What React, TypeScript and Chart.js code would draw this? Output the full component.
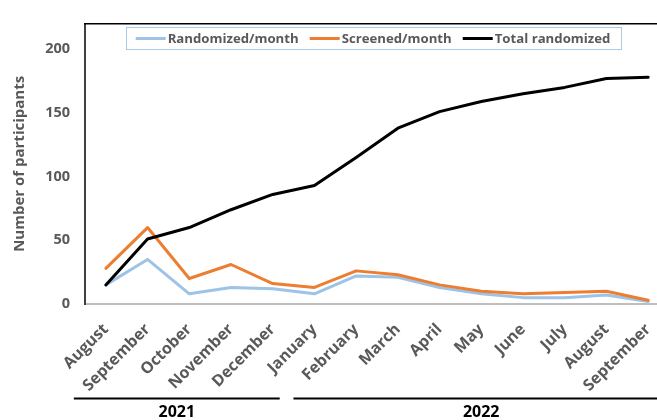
import React, { useEffect, useRef } from 'react';
import { Chart, registerables } from 'chart.js';

Chart.register(...registerables);

const months = ['August', 'September', 'October', 'November', 'December', 'January', 'February', 'March', 'April', 'May', 'June', 'July', 'August', 'September'];
const randomizedPerMonth = [15, 35, 8, 13, 12, 8, 22, 21, 13, 8, 5, 5, 7, 2];
const screenedPerMonth = [28, 60, 20, 31, 16, 13, 26, 23, 15, 10, 8, 9, 10, 3];
const totalRandomized = [15, 51, 60, 74, 86, 93, 115, 138, 151, 159, 165, 170, 177, 178];
const yTicks = [0, 50, 100, 150, 200];
const yearGroups = [
  { label: '2021', first: 0, last: 4, startOff: -32, endOff: 7 },
  { label: '2022', first: 5, last: 13, startOff: -21, endOff: 0 },
];

const FONT = '"Open Sans", "DejaVu Sans", sans-serif';
const GRAY = '#595959';

const decorPlugin = {
  id: 'decor',
  afterDraw(chart: any) {
    const { ctx, chartArea, scales } = chart;
    const x = scales.x;
    ctx.save();
    // top frame line
    ctx.strokeStyle = '#000000';
    ctx.lineWidth = 1.5;
    ctx.beginPath();
    ctx.moveTo(chartArea.left - 1, chartArea.top);
    ctx.lineTo(chart.width, chartArea.top);
    ctx.stroke();

    // legend
    ctx.font = `bold 13.2px ${FONT}`;
    const items = chart.data.datasets.map((ds: any) => ({
      label: ds.label,
      color: ds.borderColor,
      w: ctx.measureText(ds.label).width,
    }));
    const lineLen = 30, gapText = 2, gapItem = 11, padX = 10;
    const total = items.reduce((s: number, it: any) => s + lineLen + gapText + it.w, 0) + gapItem * (items.length - 1) + padX * 2;
    const cx = 373;
    const left = cx - total / 2;
    const top = 27.5, h = 22;
    ctx.strokeStyle = '#A9CBEA';
    ctx.lineWidth = 1;
    ctx.strokeRect(Math.round(left) + 0.5, top, Math.round(total), h);
    let px = left + padX;
    const cy = top + h / 2;
    ctx.textBaseline = 'middle';
    ctx.textAlign = 'left';
    items.forEach((it: any) => {
      ctx.strokeStyle = it.color;
      ctx.lineWidth = 3;
      ctx.beginPath();
      ctx.moveTo(px, cy);
      ctx.lineTo(px + lineLen, cy);
      ctx.stroke();
      ctx.fillStyle = GRAY;
      ctx.fillText(it.label, px + lineLen + gapText, cy + 1);
      px += lineLen + gapText + it.w + gapItem;
    });

    // year groups
    ctx.strokeStyle = '#000000';
    ctx.lineWidth = 2;
    ctx.fillStyle = '#000000';
    ctx.font = `bold 16px ${FONT}`;
    ctx.textAlign = 'center';
    yearGroups.forEach((g) => {
      const x0 = x.getPixelForValue(g.first) + g.startOff;
      const x1 = g.last === months.length - 1 ? chartArea.right : x.getPixelForValue(g.last) + g.endOff;
      ctx.beginPath();
      ctx.moveTo(x0, 398.5);
      ctx.lineTo(x1, 398.5);
      ctx.stroke();
      ctx.fillText(g.label, (x0 + x1) / 2, 412);
    });
    ctx.restore();
  },
};

export default function App() {
  const ref = useRef<HTMLCanvasElement>(null);
  useEffect(() => {
    if (!ref.current) return;
    const chart = new Chart(ref.current, {
      type: 'line',
      data: {
        labels: months,
        datasets: [
          { label: 'Randomized/month', data: randomizedPerMonth, borderColor: '#9DC3E6', backgroundColor: '#9DC3E6', borderWidth: 3, pointRadius: 0, order: 2, borderJoinStyle: 'round', borderCapStyle: 'round' },
          { label: 'Screened/month', data: screenedPerMonth, borderColor: '#ED7D31', backgroundColor: '#ED7D31', borderWidth: 3, pointRadius: 0, order: 1, borderJoinStyle: 'round', borderCapStyle: 'round' },
          { label: 'Total randomized', data: totalRandomized, borderColor: '#000000', backgroundColor: '#000000', borderWidth: 3, pointRadius: 0, order: 0, borderJoinStyle: 'round', borderCapStyle: 'round' },
        ],
      },
      options: {
        responsive: false,
        animation: false,
        devicePixelRatio: 1,
        layout: { padding: { top: 11, right: 11, left: 0, bottom: 0 } },
        plugins: { legend: { display: false }, tooltip: { enabled: false } },
        scales: {
          x: {
            type: 'category',
            offset: true,
            grid: { display: false, drawTicks: false },
            border: { color: '#BFBFBF', width: 2 },
            ticks: {
              color: GRAY,
              font: { family: FONT, weight: 'bold', size: 16 },
              minRotation: 45,
              maxRotation: 45,
              autoSkip: false,
              padding: 16,
            },
            afterFit: (s: any) => { s.height = 116; },
          },
          y: {
            min: 0,
            max: 220,
            grid: { display: false, drawTicks: false },
            border: { color: '#404040', width: 2 },
            ticks: {
              color: GRAY,
              font: { family: FONT, weight: 'bold', size: 14.5 },
              padding: 15,
            },
            title: {
              display: true,
              text: 'Number of participants',
              color: GRAY,
              font: { family: FONT, weight: 'bold', size: 15 },
              padding: { top: 11, bottom: 0 },
            },
            afterBuildTicks: (s: any) => { s.ticks = yTicks.map((v) => ({ value: v })); },
            afterFit: (s: any) => { s.width = 85; },
          },
        },
      },
      plugins: [decorPlugin],
    } as any);
    return () => chart.destroy();
  }, []);
  return (
    <div style={{ position: 'fixed', left: 0, top: 0, width: 657, height: 420, overflow: 'hidden', background: '#fff' }}>
      <canvas ref={ref} width={680} height={420} style={{ width: 680, height: 420, display: 'block' }} />
    </div>
  );
}
